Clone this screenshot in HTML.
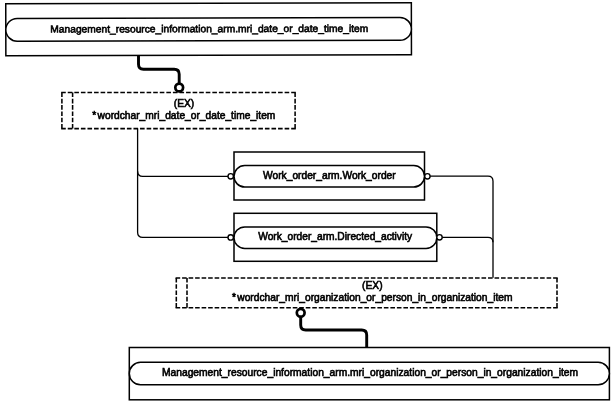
<!DOCTYPE html>
<html><head><meta charset="utf-8">
<style>
html,body{margin:0;padding:0;background:#fff;}
svg{display:block;will-change:transform;opacity:.999;}
text{font-family:"Liberation Sans",Arial,sans-serif;font-size:10.25px;fill:#000;stroke:#000;stroke-width:0.6px;}
.l{fill:none;stroke:#000;stroke-width:1.5;}
.n{fill:none;stroke:#000;stroke-width:1.3;}
.w{fill:#fff;stroke:#000;stroke-width:1.5;}
.d{fill:none;stroke:#000;stroke-width:1.55;stroke-linecap:butt;}
.t{fill:none;stroke:#000;stroke-width:2.9;stroke-linejoin:round;}
.c{fill:#fff;stroke:#000;stroke-width:2.7;}
.s{fill:#fff;stroke:#000;stroke-width:1.4;}
</style></head><body>
<svg width="613" height="404" viewBox="0 0 613 404">
<rect width="613" height="404" fill="#fff"/>
<defs><filter id="soft" x="0" y="0" width="613" height="404" filterUnits="userSpaceOnUse"><feGaussianBlur stdDeviation="0.35"/></filter></defs>
<g filter="url(#soft)">

<!-- top box -->
<g transform="rotate(-0.127 6 30)">
<rect class="l" x="5.8" y="3.700" width="405.600" height="52"/>
<rect class="w" x="5.8" y="18.4" width="405.600" height="22.800" rx="11.4" ry="11.4"/>
<text x="50.3" y="32.7" textLength="318" lengthAdjust="spacingAndGlyphs">Management_resource_information_arm.mri_date_or_date_time_item</text>
</g>

<!-- thick connector 1 -->
<path class="t" d="M138.500 55.500 V64.200 Q138.500 69.200 143.500 69.200 H174.200 Q179.200 69.200 179.200 74.200 V83.500"/>
<circle class="c" cx="179.200" cy="87.500" r="3.900"/>

<!-- dashed box 1 -->
<line class="d" x1="61.18" y1="92.5" x2="295.82" y2="92.5" stroke-dasharray="4.6 1.972"/>
<line class="d" x1="61.18" y1="128.6" x2="295.82" y2="128.6" stroke-dasharray="4.6 1.972"/>
<line class="d" x1="61.9" y1="92.5" x2="61.9" y2="128.6" stroke-dasharray="4.6 1.700"/>
<line class="d" x1="295.1" y1="92.5" x2="295.1" y2="128.6" stroke-dasharray="4.6 1.700"/>
<line class="d" x1="72.6" y1="92.5" x2="72.6" y2="128.6" stroke-dasharray="4.6 1.700"/>
<text x="184" y="107.3" text-anchor="middle">(EX)</text>
<text x="92.2" y="118.900">*</text><text x="97.600" y="118.900" textLength="177.800" lengthAdjust="spacingAndGlyphs">wordchar_mri_date_or_date_time_item</text>

<!-- thin lines from dashed box 1 -->
<path class="n" d="M137.600 128.500 V232.300 Q137.600 237.400 142.700 237.400 H228"/>
<path class="n" d="M137.600 171.200 Q137.600 176.300 142.700 176.300 H228"/>

<!-- Work_order box -->
<rect class="l" x="234" y="152" width="190.500" height="48"/>
<rect class="w" x="234" y="165.600" width="190.500" height="21.400" rx="10.700" ry="10.700"/>
<text x="263" y="179.300" textLength="132.700" lengthAdjust="spacingAndGlyphs">Work_order_arm.Work_order</text>
<circle class="s" cx="230.700" cy="176.300" r="2.700"/>
<circle class="s" cx="427.400" cy="176.300" r="2.700"/>

<!-- Directed_activity box -->
<rect class="l" x="234" y="213.300" width="202.800" height="48"/>
<rect class="w" x="234" y="226.900" width="202.800" height="21.500" rx="10.750" ry="10.750"/>
<text x="258.200" y="240.400" textLength="154" lengthAdjust="spacingAndGlyphs">Work_order_arm.Directed_activity</text>
<circle class="s" cx="230.700" cy="237.400" r="2.700"/>
<circle class="s" cx="439.500" cy="237.300" r="2.700"/>

<!-- right lines -->
<path class="n" d="M430.100 176.200 H488 Q493 176.200 493 181.200 V277.800"/>
<path class="n" d="M442.200 237.300 H488 Q493 237.300 493 242.300"/>

<!-- dashed box 2 -->
<line class="d" x1="175.58" y1="277.9" x2="557.72" y2="277.9" stroke-dasharray="4.6 1.909"/>
<line class="d" x1="175.58" y1="307.7" x2="557.72" y2="307.7" stroke-dasharray="4.6 1.909"/>
<line class="d" x1="176.3" y1="277.9" x2="176.3" y2="307.7" stroke-dasharray="4.6 1.700"/>
<line class="d" x1="557.0" y1="277.9" x2="557.0" y2="307.7" stroke-dasharray="4.6 1.700"/>
<line class="d" x1="187.0" y1="277.9" x2="187.0" y2="307.7" stroke-dasharray="4.6 1.700"/>
<text x="372.300" y="289.400" text-anchor="middle">(EX)</text>
<text x="232" y="301.100">*</text><text x="237.300" y="301.100" textLength="275.200" lengthAdjust="spacingAndGlyphs">wordchar_mri_organization_or_person_in_organization_item</text>

<!-- thick connector 2 -->
<circle class="c" cx="300.700" cy="312.800" r="3.900"/>
<path class="t" d="M300.700 317 V325 Q300.700 330 305.700 330 H361.700 Q366.700 330 366.700 335 V347.500"/>

<!-- bottom box -->
<rect class="l" x="129.300" y="347.500" width="480.100" height="52.300"/>
<rect class="w" x="129.300" y="362.300" width="480.100" height="22.500" rx="11.250" ry="11.250"/>
<text x="162" y="376.300" textLength="416" lengthAdjust="spacingAndGlyphs">Management_resource_information_arm.mri_organization_or_person_in_organization_item</text>
</g>
</svg>
</body></html>
